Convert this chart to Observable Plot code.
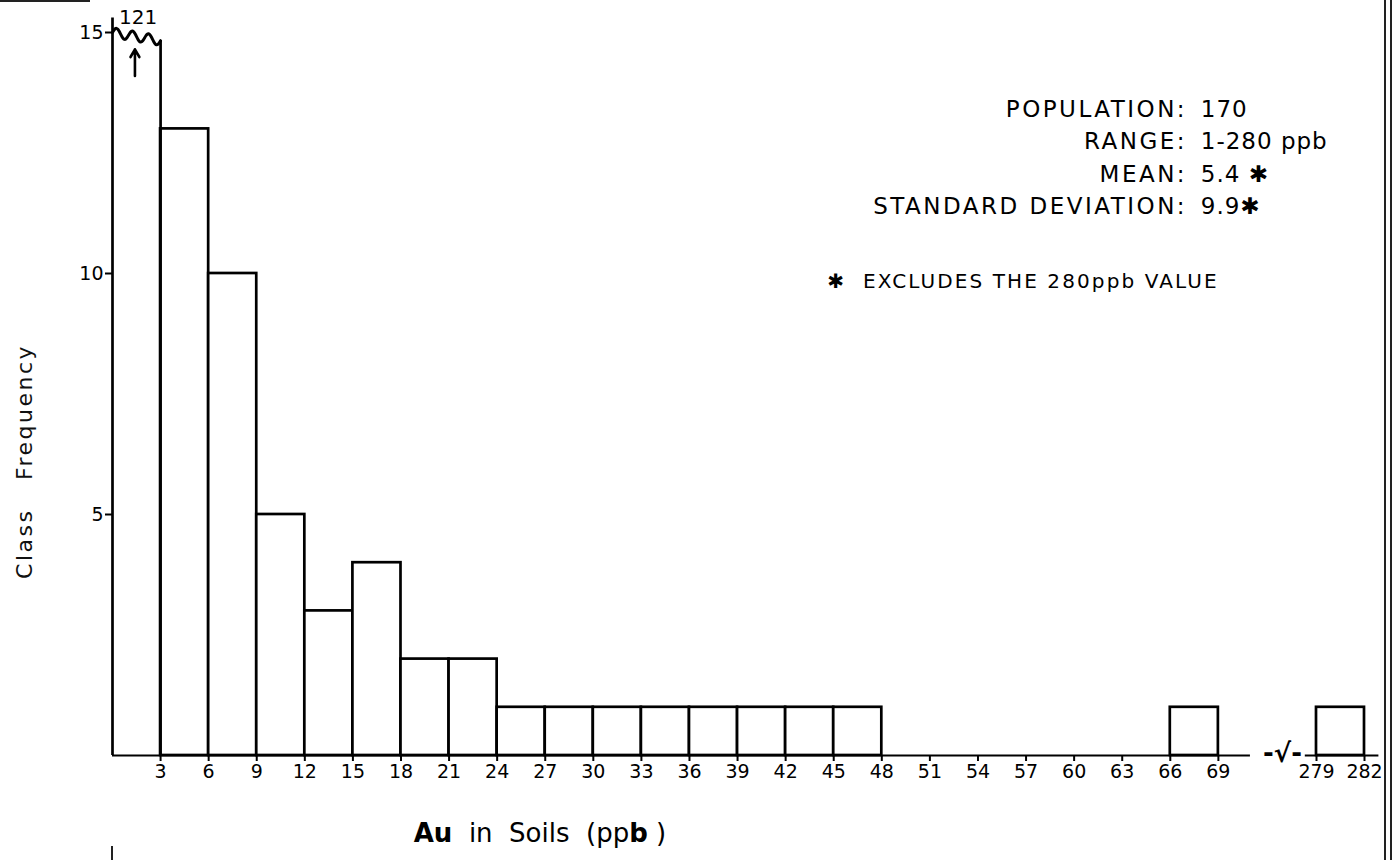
<!DOCTYPE html>
<html>
<head>
<meta charset="utf-8">
<script src="https://cdn.jsdelivr.net/npm/d3@7"></script>
<script src="https://cdn.jsdelivr.net/npm/@observablehq/plot@0.6"></script>
<style>
  html, body { margin: 0; padding: 0; background: #fff; }
  #wrap { position: relative; width: 1398px; height: 860px; overflow: hidden; }
  #border { position: absolute; left: 1384px; top: 0; width: 4px; height: 860px;
            border-left: 2px solid #222; border-right: 2px solid #222; }
  #topline { position: absolute; left: 0; top: 0; width: 90px; height: 0; border-top: 2px solid #222; }
  #botmark { position: absolute; left: 111px; top: 846px; width: 0; height: 14px; border-left: 2px solid #222; }
</style>
</head>
<body>
<div id="wrap"><div id="border"></div><div id="topline"></div><div id="botmark"></div></div>
<script>
// ---- data ----
const binStart = [0, 3, 6, 9, 12, 15, 18, 21, 24, 27, 30, 33, 36, 39, 42, 45, 66, 279];
const binWidth = 3;
const counts   = [121, 13, 10, 5, 3, 4, 2, 2, 1, 1, 1, 1, 1, 1, 1, 1, 1, 1];
const xTicks = [3, 6, 9, 12, 15, 18, 21, 24, 27, 30, 33, 36, 39, 42, 45, 48, 51, 54, 57, 60, 63, 66, 69, 279, 282];
const yTicks = [5, 10, 15];
const yCap = 15;
const statLabels = ["POPULATION:", "RANGE:", "MEAN:", "STANDARD DEVIATION:"];
const statValues = ["170", "1-280 ppb", "5.4 \u2731", "9.9\u2731"];
const footnote = "\u2731  EXCLUDES THE 280ppb VALUE";
const yTitle = "Class   Frequency";

// ---- derived tables ----
const bars = binStart.map((s, i) => ({x1: s, x2: s + binWidth, n: counts[i]}));
const normal = bars.filter(d => d.n <= yCap);
const broken = bars.filter(d => d.n > yCap);
// wavy break line on top of the truncated bar
const squiggle = [];
broken.forEach(b => {
  const N = 36;
  for (let k = 0; k <= N; k++) {
    const t = k / N;
    squiggle.push({x: b.x1 + t * (b.x2 - b.x1), y: yCap - 0.17 * t + 0.1 * Math.sin(t * Math.PI * 6)});
  }
});
const stats = statLabels.map((l, i) => ({label: l, value: statValues[i], row: i}));

const font = "DejaVu Sans, Liberation Sans, sans-serif";
const sw = 2.7;

const chart = Plot.plot({
  width: 1398,
  height: 860,
  marginTop: 32,
  marginBottom: 105,
  marginLeft: 112,
  marginRight: 34,
  style: {fontFamily: font, color: "#000", background: "transparent"},
  x: {type: "linear", domain: [0, 73.5, 277.5, 282], range: [112, 1290, 1292, 1364]},
  y: {domain: [0, 15]},
  marks: [
    Plot.rect(normal, {x1: "x1", x2: "x2", y1: 0, y2: "n", fill: "white", stroke: "black", strokeWidth: sw}),
    Plot.ruleX(broken, {x: "x2", y1: 0, y2: yCap - 0.17, stroke: "black", strokeWidth: sw}),
    Plot.line(squiggle, {x: "x", y: "y", curve: "natural", stroke: "black", strokeWidth: 3}),
    Plot.text(broken, {x: d => (d.x1 + d.x2) / 2 + 0.1, y: yCap, dy: -15, text: d => String(d.n), fontSize: 20, fill: "black"}),
    Plot.arrow(broken, {x: d => (d.x1 + d.x2) / 2 - 0.1, y1: 14.1, y2: 14.65, stroke: "black", strokeWidth: 2.6, headLength: 8}),
    // axes lines
    Plot.ruleX([0], {y1: 0, y2: 15.3, stroke: "black", strokeWidth: sw}),
    Plot.ruleY([0], {x1: 0, x2: 71.0, stroke: "black", strokeWidth: 2.2}),
    Plot.ruleY([0], {x1: 278.3, x2: 282.9, stroke: "black", strokeWidth: 2.2}),
    Plot.text(["-\u221A-"], {x: 73.0, y: 0, dy: -2, fontSize: 26, fontWeight: "bold", fill: "black"}),
    Plot.axisX(xTicks, {tickSize: 6, tickPadding: 3, fontSize: 19, tickFormat: d => String(d), strokeWidth: 2, label: null}),
    Plot.axisY(yTicks, {tickSize: 7, tickPadding: 2, fontSize: 19, strokeWidth: 2, label: null}),
    // y title
    Plot.text([yTitle], {frameAnchor: "left", y: 6.1, dx: -88, rotate: -90, textAnchor: "middle", fontSize: 22, fill: "#111"}),
    // stats block
    Plot.text(stats, {x: 67.05, y: d => 13.4 - d.row * 0.67, text: "label", textAnchor: "end", fontSize: 23, fill: "black"}),
    Plot.text(stats, {x: 67.9, y: d => 13.4 - d.row * 0.67, text: "value", textAnchor: "start", fontSize: 23, fill: "black"}),
    Plot.text([footnote], {x: 44.6, y: 9.83, text: d => d, textAnchor: "start", fontSize: 20, fill: "black"})
  ]
});

const svg = d3.select(chart);
// letter spacing for the hand-lettered look
const spaced = new Map([
  ...statLabels.map(s => [s, "2.5px"]),
  ...statValues.map(s => [s, "1px"]),
  [footnote, "2.1px"],
  [yTitle, "2.5px"]
]);
svg.selectAll("text").each(function() {
  const ls = spaced.get(this.textContent);
  if (ls) this.style.letterSpacing = ls;
});
svg.selectAll("text").style("white-space", "pre");

// x title with mixed weights
const t = svg.append("text")
  .attr("x", 540).attr("y", 842)
  .attr("text-anchor", "middle")
  .attr("font-family", font).attr("font-size", 26).attr("fill", "black")
  .style("white-space", "pre");
t.append("tspan").attr("font-weight", "bold").text("Au");
t.append("tspan").text("  in  Soils  (pp");
t.append("tspan").attr("font-weight", "bold").text("b");
t.append("tspan").text(" )");

document.getElementById("wrap").prepend(chart);
</script>
</body>
</html>
